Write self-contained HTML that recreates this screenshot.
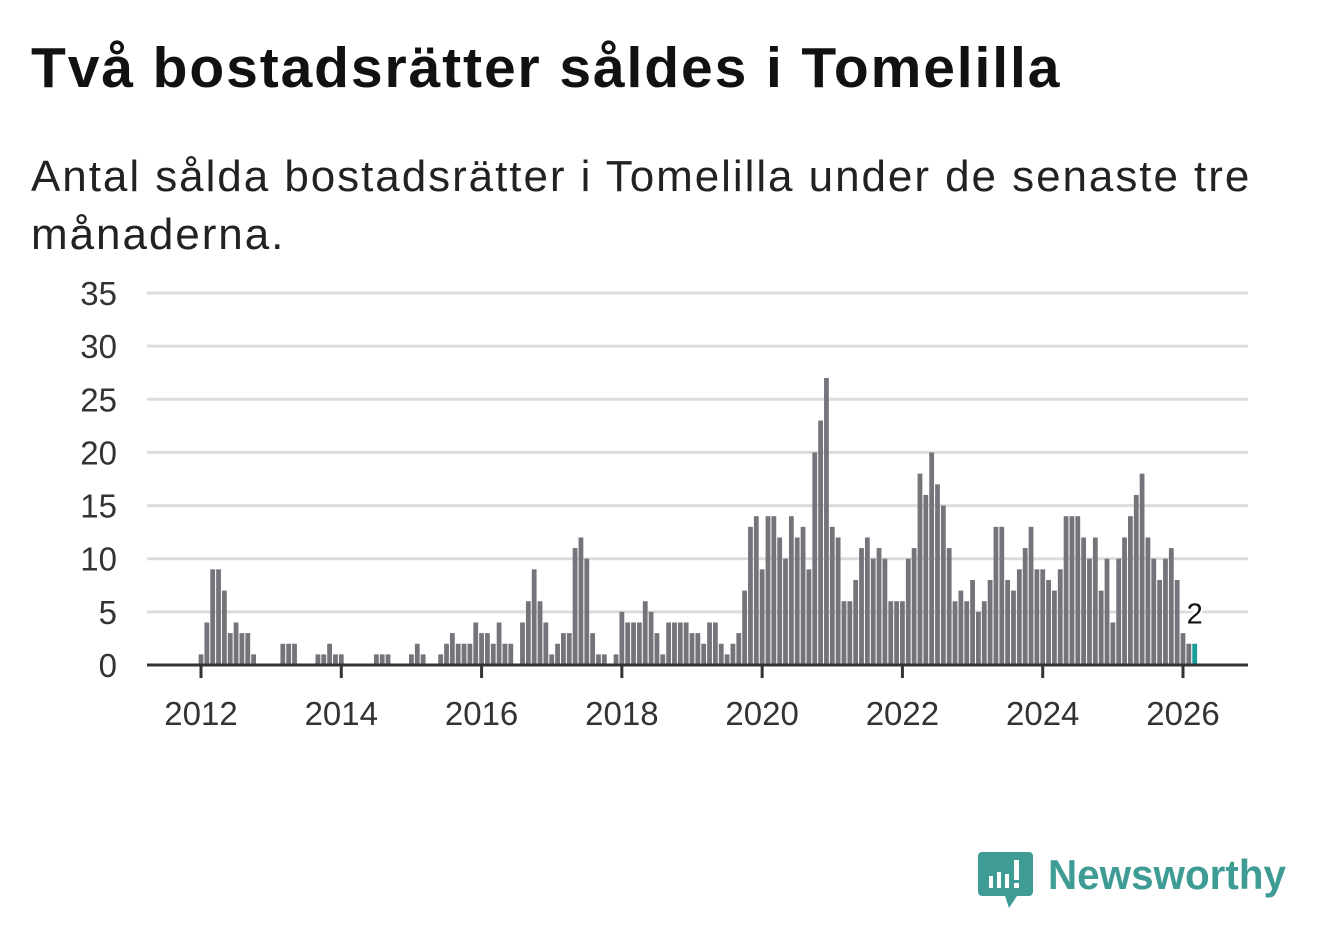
<!DOCTYPE html>
<html><head><meta charset="utf-8">
<style>
body{margin:0;background:#fff;width:1322px;height:939px;overflow:hidden;font-family:"Liberation Sans","DejaVu Sans",sans-serif;}
h1{position:absolute;left:31px;top:39px;margin:0;font-size:57px;line-height:58px;font-weight:bold;color:#111;letter-spacing:1.9px;white-space:nowrap;}
.sub{position:absolute;left:31px;top:148px;width:1270px;margin:0;font-size:44px;line-height:58px;color:#222;letter-spacing:1.95px;}
svg{position:absolute;left:0;top:0;}
</style></head>
<body>
<h1>Två bostadsrätter såldes i Tomelilla</h1>
<p class="sub">Antal sålda bostadsrätter i Tomelilla under de senaste tre månaderna.</p>
<svg id="chart" width="1322" height="939">
  <g id="grid"></g><g id="bars"></g><g id="axis"></g>
  <g>
    <path d="M982 852 h47 a4 4 0 0 1 4 4 v36 a4 4 0 0 1 -4 4 h-12 l-8 12 l-4 -12 h-23 a4 4 0 0 1 -4 -4 v-36 a4 4 0 0 1 4 -4z" fill="#3f9c94"/>
    <rect x="989" y="876" width="4" height="12" fill="#fff"/>
    <rect x="997" y="872" width="4" height="16" fill="#fff"/>
    <rect x="1005" y="874" width="4" height="14" fill="#fff"/>
    <rect x="1014" y="860" width="5" height="20" fill="#fff"/>
    <rect x="1014" y="883" width="5" height="5" fill="#fff"/>
    <text x="1048" y="889" font-size="42" font-weight="bold" textLength="238" lengthAdjust="spacingAndGlyphs" font-family="Liberation Sans, sans-serif" fill="#3f9c94">Newsworthy</text>
  </g>
</svg>
<script>
const values=[1,4,9,9,7,3,4,3,3,1,0,0,0,0,2,2,2,0,0,0,1,1,2,1,1,0,0,0,0,0,1,1,1,0,0,0,1,2,1,0,0,1,2,3,2,2,2,4,3,3,2,4,2,2,0,4,6,9,6,4,1,2,3,3,11,12,10,3,1,1,0,1,5,4,4,4,6,5,3,1,4,4,4,4,3,3,2,4,4,2,1,2,3,7,13,14,9,14,14,12,10,14,12,13,9,20,23,27,13,12,6,6,8,11,12,10,11,10,6,6,6,10,11,18,16,20,17,15,11,6,7,6,8,5,6,8,13,13,8,7,9,11,13,9,9,8,7,9,14,14,14,12,10,12,7,10,4,10,12,14,16,18,12,10,8,10,11,8,3,2,2];
const startYear=2012;
const yTicks=[0,5,10,15,20,25,30,35];
const xTickYears=[2012,2014,2016,2018,2020,2022,2024,2026];
const lastLabel="2";
const NS="http://www.w3.org/2000/svg";
const X0=201,PITCH=(1183-201)/168,Y0=665,YU=(665-293)/35;
function xm(i){return X0+i*PITCH;}
function y(v){return Y0-v*YU;}
function mk(tag,attrs,parent){const e=document.createElementNS(NS,tag);for(const k in attrs)e.setAttribute(k,attrs[k]);parent.appendChild(e);return e;}
const grid=document.getElementById('grid'),bars=document.getElementById('bars'),axis=document.getElementById('axis');
yTicks.forEach(t=>{
  if(t>0){const l=mk('line',{x1:147,x2:1248,y1:y(t),y2:y(t),stroke:'#dcdcdc','stroke-width':3},grid);
  
  }
  const tx=mk('text',{x:117,y:y(t)+12,'text-anchor':'end','font-size':33,fill:'#333'},axis);
  tx.textContent=t;
  
  
});
values.forEach((v,i)=>{
  const last=i===values.length-1;
  const r=mk('rect',{x:xm(i)-2.4,y:y(v),width:4.8,height:v*YU,fill:last?'#1a9e98':'#75747a'},bars);
  
  
});
const bl=mk('line',{x1:147,x2:1248,y1:Y0,y2:Y0,stroke:'#333','stroke-width':3},axis);


xTickYears.forEach(yr=>{
  const xx=xm((yr-startYear)*12);
  const tk=mk('line',{x1:xx,x2:xx,y1:Y0,y2:Y0+13,stroke:'#333','stroke-width':3},axis);
  
  
  const t=mk('text',{x:xx,y:725,'text-anchor':'middle','font-size':33,fill:'#333'},axis);
  t.textContent=yr;
  
  
});
const li=values.length-1;
const lab=mk('text',{x:xm(li),y:y(values[li])-20,'text-anchor':'middle','font-size':29,fill:'#111',stroke:'#fff','stroke-width':5,'paint-order':'stroke'},axis);
lab.textContent=lastLabel;


</script>
</body></html>
